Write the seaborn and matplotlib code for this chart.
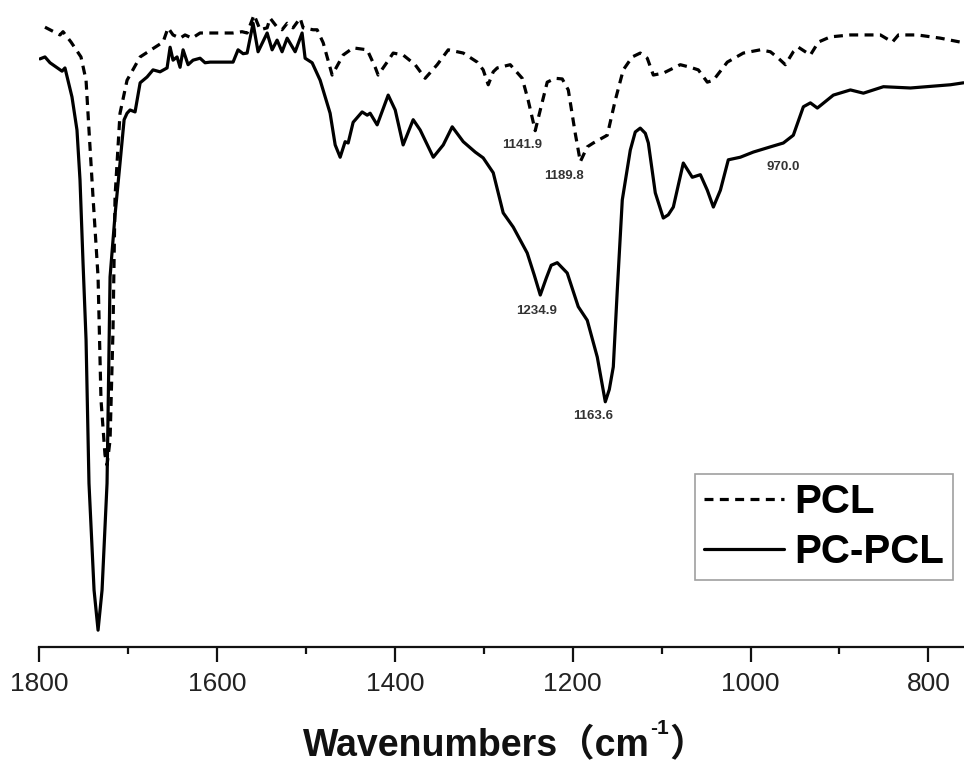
import numpy as np
import pandas as pd
import matplotlib
matplotlib.use("Agg")
import matplotlib.pyplot as plt
from matplotlib.offsetbox import TextArea, HPacker, VPacker, DrawingArea, AnchoredOffsetbox
import seaborn as sns

# ---- data ----
pcpcl_wn = [1798.9, 1793.3, 1787.6, 1774.1, 1770.8, 1762.9, 1757.3, 1753.9, 1750.5, 1747.1,
            1743.8, 1738.1, 1733.6, 1729.1, 1723.5, 1720.1, 1714.5, 1708.9, 1704.3, 1701.0,
            1697.6, 1692.0, 1686.3, 1678.5, 1671.8, 1663.9, 1656.0, 1652.6, 1649.3, 1644.8,
            1641.4, 1638.0, 1632.4, 1626.8, 1618.9, 1613.3, 1607.6, 1596.4, 1581.8, 1576.2,
            1570.5, 1566.0, 1559.3, 1553.7, 1543.5, 1537.9, 1532.3, 1526.7, 1521.0, 1512.0,
            1504.2, 1500.8, 1492.9, 1483.9, 1472.7, 1467.0, 1461.4, 1455.8, 1452.4, 1446.8,
            1436.7, 1431.0, 1427.7, 1419.8, 1407.4, 1399.5, 1390.6, 1379.3, 1371.4, 1356.7,
            1345.5, 1335.4, 1323.0, 1309.6, 1300.6, 1289.3, 1278.1, 1266.8, 1251.1, 1243.2,
            1236.4, 1229.7, 1224.1, 1217.3, 1206.1, 1193.7, 1183.6, 1172.3, 1166.7, 1163.3,
            1158.8, 1154.3, 1149.8, 1144.2, 1135.2, 1129.6, 1124.0, 1118.3, 1114.9, 1107.1,
            1098.1, 1092.5, 1086.8, 1075.6, 1065.5, 1056.4, 1048.6, 1041.8, 1033.9, 1025.0,
            1011.5, 996.8, 977.7, 963.1, 951.9, 940.6, 932.7, 924.9, 906.9, 887.7,
            873.1, 850.6, 820.2, 775.2, 760.6]
pcpcl_t = [90.9, 91.2, 90.3, 89.0, 89.5, 85.0, 79.9, 72.2, 59.4, 47.5,
           25.3, 8.8, 2.6, 8.8, 25.3, 57.2, 66.8, 74.8, 81.5, 82.5,
           83.0, 82.7, 87.2, 88.1, 89.2, 88.9, 89.5, 92.7, 90.7, 91.2,
           89.6, 92.3, 90.0, 90.7, 91.0, 90.3, 90.4, 90.4, 90.4, 92.3,
           91.7, 91.8, 96.4, 92.0, 94.9, 92.3, 93.8, 92.0, 94.1, 92.0,
           94.9, 91.0, 90.3, 87.6, 82.5, 77.6, 75.7, 78.1, 77.9, 81.1,
           82.7, 82.2, 82.5, 80.7, 85.3, 83.0, 77.6, 81.5, 79.9, 75.7,
           77.6, 80.4, 78.1, 76.5, 75.6, 73.3, 67.1, 64.9, 60.9, 57.5,
           54.4, 57.0, 59.0, 59.4, 57.8, 52.6, 50.5, 44.8, 40.5, 37.9,
           39.8, 43.3, 55.2, 69.1, 76.8, 79.6, 80.2, 79.4, 77.9, 70.2,
           66.3, 66.8, 68.0, 74.8, 72.6, 73.0, 70.6, 68.0, 70.6, 75.3,
           75.7, 76.5, 77.3, 77.9, 79.1, 83.5, 84.1, 83.3, 85.3, 86.1,
           85.6, 86.6, 86.4, 86.9, 87.2]

pcl_wn = [1793.3, 1776.4, 1773.0, 1764.0, 1752.8, 1747.1, 1743.8, 1739.3, 1733.6, 1730.3,
          1725.8, 1723.5, 1720.1, 1716.8, 1714.5, 1708.9, 1701.0, 1686.3, 1666.1, 1660.5,
          1654.9, 1649.3, 1641.4, 1635.8, 1627.9, 1618.9, 1599.8, 1581.8, 1571.7, 1566.0,
          1558.2, 1551.4, 1543.5, 1540.2, 1532.3, 1526.7, 1521.0, 1514.3, 1506.4, 1503.0,
          1491.8, 1487.3, 1480.5, 1470.4, 1458.0, 1446.8, 1431.0, 1422.0, 1418.7, 1408.6,
          1401.8, 1390.6, 1377.1, 1365.8, 1352.3, 1339.9, 1323.0, 1307.3, 1300.6, 1294.9,
          1289.3, 1284.8, 1270.2, 1256.7, 1250.0, 1242.1, 1236.4, 1228.6, 1219.6, 1211.7,
          1204.9, 1197.1, 1193.7, 1191.4, 1183.6, 1176.8, 1161.1, 1152.1, 1143.1, 1133.0,
          1124.0, 1116.1, 1109.3, 1098.1, 1079.0, 1067.7, 1058.7, 1048.6, 1041.8, 1026.1,
          1008.1, 989.0, 977.7, 968.7, 960.9, 951.9, 946.2, 938.4, 932.7, 923.7,
          910.3, 887.7, 854.0, 840.5, 833.7, 812.4, 786.5, 760.6]
pcl_t = [95.8, 94.6, 95.1, 93.5, 91.2, 87.6, 79.9, 69.6, 57.2, 38.2,
         29.7, 28.1, 32.0, 49.0, 69.6, 82.5, 87.6, 91.2, 93.0, 93.5,
         95.7, 94.6, 94.1, 94.6, 94.1, 94.9, 94.9, 94.9, 95.1, 94.9,
         97.7, 95.4, 95.7, 97.2, 95.8, 95.4, 96.4, 95.7, 97.2, 95.7,
         95.4, 95.4, 93.4, 88.4, 91.5, 92.6, 92.3, 89.6, 88.4, 90.4,
         91.8, 91.5, 90.0, 87.9, 90.0, 92.3, 91.8, 90.4, 89.2, 86.9,
         88.9, 89.5, 90.0, 87.9, 84.5, 79.8, 83.0, 87.3, 87.9, 87.8,
         86.1, 79.4, 76.8, 75.0, 77.3, 77.9, 79.1, 84.5, 89.2, 91.2,
         91.8, 91.0, 88.4, 88.7, 90.0, 89.6, 89.2, 87.3, 87.6, 90.4,
         91.8, 92.3, 92.0, 91.0, 90.0, 92.0, 92.7, 92.0, 91.5, 93.5,
         94.3, 94.6, 94.6, 93.5, 94.6, 94.6, 94.1, 93.4]

series_labels = ["PCL", "PC-PCL"]
tick_values = [1800, 1600, 1400, 1200, 1000, 800]
peak_labels = ["1141.9", "1189.8", "1234.9", "1163.6", "970.0"]
peak_label_wn = [1257, 1209.4, 1240.9, 1176.8, 963.1]
peak_label_t = [77.6, 72.8, 51.9, 35.7, 74.2]
xlabel_main = "Wavenumbers\uFF08cm"
xlabel_sup = "-1"
xlabel_end = "\uFF09"

# ---- plot ----
sns.set_theme(style="white")
plt.rcParams["font.family"] = ["Liberation Sans", "DejaVu Sans", "Noto Sans CJK SC"]

fig = plt.figure(figsize=(9.64, 7.63), dpi=100)
ax = fig.add_axes([39 / 964, 1 - 647 / 763, (964 - 39) / 964, 647 / 763])

df_pcl = pd.DataFrame({"wn": pcl_wn, "t": pcl_t})
df_pc = pd.DataFrame({"wn": pcpcl_wn, "t": pcpcl_t})

sns.lineplot(data=df_pcl, x="wn", y="t", ax=ax, sort=False, color="black",
             lw=2.3, label=series_labels[0], linestyle="--")
sns.lineplot(data=df_pc, x="wn", y="t", ax=ax, sort=False, color="black",
             lw=2.3, label=series_labels[1])
ax.lines[0].set_dashes((2.8, 2.0))
for ln in ax.lines:
    ln.set_solid_joinstyle("round")
    ln.set_dash_joinstyle("round")

ax.set_xlim(1800, 760)
ax.set_ylim(0, 100)
ax.set_yticks([])
ax.set_ylabel("")
ax.set_xlabel("")
for s in ["left", "right", "top"]:
    ax.spines[s].set_visible(False)
ax.spines["bottom"].set_linewidth(1.6)
ax.spines["bottom"].set_color("#111111")

ax.set_xticks(tick_values)
ax.set_xticks(np.arange(1700, 760, -200), minor=True)
ax.tick_params(axis="x", which="major", direction="out", length=11, width=1.6,
               labelsize=19, pad=7, colors="#111111", bottom=True)
ax.tick_params(axis="x", which="minor", direction="out", length=5, width=1.6,
               colors="#111111", bottom=True)
for lbl in ax.get_xticklabels():
    lbl.set_color("#222222")

# x-axis title with raised superscript
tp_main = dict(fontsize=27, fontweight="bold", color="#111111")
ta1 = TextArea(xlabel_main, textprops=tp_main)
ta2 = TextArea(xlabel_sup, textprops=dict(fontsize=15, fontweight="bold", color="#111111"))
spacer = DrawingArea(1, 19)
sup = VPacker(children=[ta2, spacer], align="center", pad=0, sep=0)
ta3 = TextArea(xlabel_end, textprops=tp_main)
pack = HPacker(children=[ta1, sup, ta3], align="bottom", pad=0, sep=0)
anch = AnchoredOffsetbox(loc="center", child=pack, pad=0, borderpad=0, frameon=False,
                         bbox_to_anchor=(505 / 964, 1 - 742 / 763),
                         bbox_transform=fig.transFigure)
fig.add_artist(anch)

for txt, xw, yt in zip(peak_labels, peak_label_wn, peak_label_t):
    ax.text(xw, yt, txt, ha="center", va="center", fontsize=9.5, fontweight="bold",
            color="#333333")

leg = ax.legend(loc="upper left", bbox_to_anchor=(695 / 964, 1 - 474 / 763),
                bbox_transform=fig.transFigure, frameon=True, fancybox=False,
                prop={"weight": "bold", "size": 29}, handlelength=2.0,
                handletextpad=0.25, labelspacing=0.3, borderpad=0.22,
                borderaxespad=0)
leg.get_frame().set_edgecolor("#888888")
leg.get_frame().set_linewidth(1.2)
for t in leg.get_texts():
    t.set_color("black")

fig.savefig("out.png", dpi=100, facecolor="white")
